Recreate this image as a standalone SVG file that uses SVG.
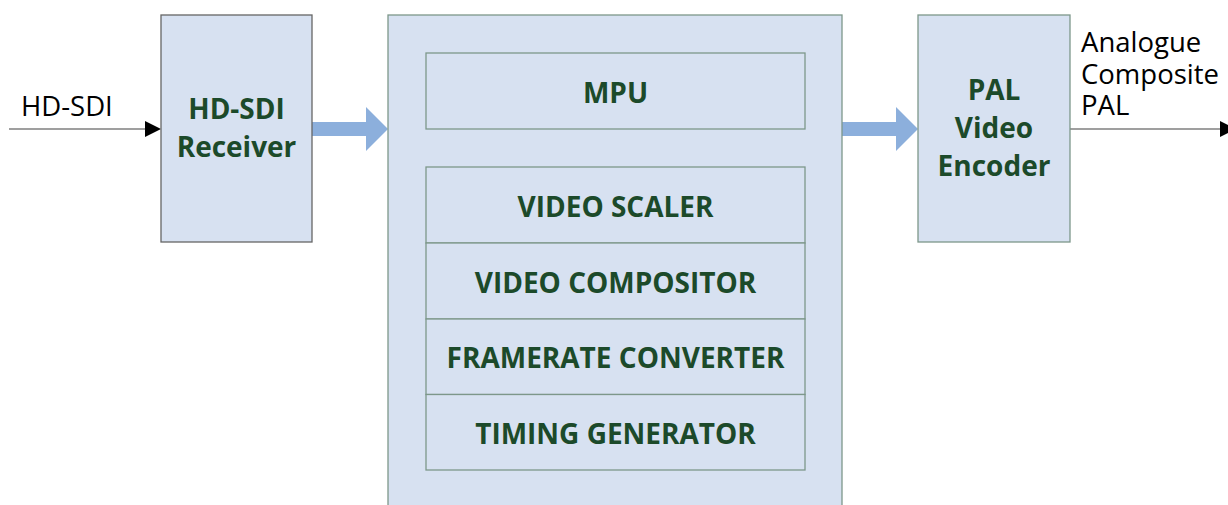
<svg xmlns="http://www.w3.org/2000/svg" width="1228" height="505" viewBox="0 0 1228 505">
<style>
.box{fill:#d7e1f1;stroke:#7d978a;stroke-width:1.3}
.lbl{font-family:"Open Sans","Liberation Sans",sans-serif;font-weight:bold;font-size:28px;fill:#1c4a2a;text-anchor:middle}
.plain{font-family:"Open Sans","Liberation Sans",sans-serif;font-size:27.5px;fill:#000}
.wire{stroke:#7f7f7f;stroke-width:1.3;fill:none}
.big{fill:#8cafdc}
</style>
<rect width="1228" height="505" fill="#fff"/>
<g id="connectors">
<line class="wire" x1="9" y1="129" x2="159" y2="129"/>
<path d="M145,121 L161,129 L145,137 Z" fill="#000"/>
<line class="wire" x1="1070" y1="129" x2="1222" y2="129"/>
<path d="M1220,121 L1236,129 L1220,137 Z" fill="#000"/>
<path class="big" d="M312,122 L366,122 L366,107 L388,129 L366,151 L366,136 L312,136 Z"/>
<path class="big" d="M842,122 L896,122 L896,107 L918,129 L896,151 L896,136 L842,136 Z"/>
</g>
<g id="input-label">
<text class="plain" x="21" y="116">HD-SDI</text>
</g>
<g id="output-label">
<text class="plain" x="1081" y="52">Analogue<tspan x="1081" y="83.5">Composite</tspan><tspan x="1081" y="115">PAL</tspan></text>
</g>
<g id="hdsdi-receiver">
<rect class="box" x="161" y="15" width="151" height="227" style="stroke:#666"/>
<text class="lbl" x="236.5" y="119">HD-SDI<tspan x="236.5" y="157">Receiver</tspan></text>
</g>
<g id="processor">
<rect class="box" x="388" y="15" width="454" height="500"/>
</g>
<g id="mpu">
<rect class="box" x="426" y="53" width="379" height="76"/>
<text class="lbl" x="615.5" y="103">MPU</text>
</g>
<g id="video-scaler">
<rect class="box" x="426" y="167" width="379" height="76"/>
<text class="lbl" x="615.5" y="217">VIDEO SCALER</text>
</g>
<g id="video-compositor">
<rect class="box" x="426" y="243" width="379" height="76"/>
<text class="lbl" x="615.5" y="293">VIDEO COMPOSITOR</text>
</g>
<g id="framerate-converter">
<rect class="box" x="426" y="319" width="379" height="75.5"/>
<text class="lbl" x="615.5" y="368">FRAMERATE CONVERTER</text>
</g>
<g id="timing-generator">
<rect class="box" x="426" y="394.5" width="379" height="75.5"/>
<text class="lbl" x="615.5" y="444">TIMING GENERATOR</text>
</g>
<g id="pal-encoder">
<rect class="box" x="918" y="15" width="152" height="227"/>
<text class="lbl" x="994" y="100">PAL<tspan x="994" y="138">Video</tspan><tspan x="994" y="176">Encoder</tspan></text>
</g>
</svg>
